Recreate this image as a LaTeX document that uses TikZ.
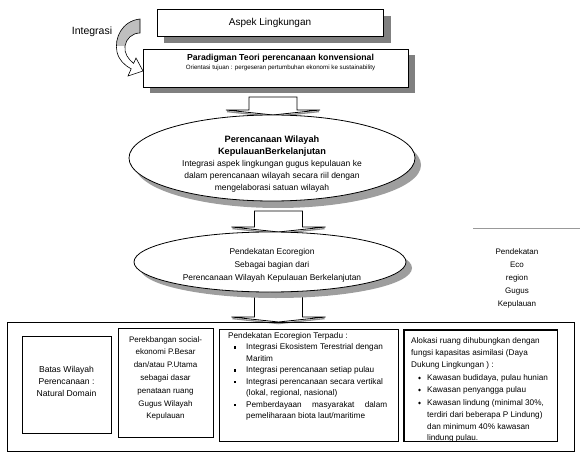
\documentclass[tikz,border=0pt]{standalone}
\usepackage{fontspec}
\setmainfont{Liberation Sans}
\usetikzlibrary{shapes.geometric}

% flat-headed downward block arrow: centre x, shaft top, wing line, tip
\newcommand{\flatarrow}[4]{%
  \draw[black!45, line width=1.3pt] ({#1-46},{#3+1.6}) -- (#1,{#4+1.6}) -- ({#1+46},{#3+1.6});
  \draw[blockarrow] ({#1-24},#2) -- ({#1-24},#3) -- ({#1-47},#3) -- (#1,#4)
     -- ({#1+47},#3) -- ({#1+24},#3) -- ({#1+24},#2) -- cycle;}

\begin{document}
\begin{tikzpicture}[x=1pt,y=-1pt,
  frame/.style={draw=black, line width=0.8pt, fill=white, inner sep=0},
  boxshadow/.style={fill=black!50},
  ovalshadow/.style={fill=black!38},
  blockarrow/.style={draw=black, line width=0.8pt, fill=white, line join=miter},
  oval/.style={ellipse, draw=black, line width=0.8pt, fill=white, inner sep=0},
  small/.style={font=\fontsize{8.5}{12}\selectfont, inner sep=0},
  line/.style={font=\fontsize{8.2}{10}\selectfont, inner sep=0, anchor=west},
  sqbullet/.style={fill=black},
]
\useasboundingbox (0,0) rectangle (580,457);

% ---- block arrows between the stages
\flatarrow{273}{97}{110}{115}
\flatarrow{278.5}{211}{227}{232}
\flatarrow{278.5}{296}{317}{322}

% ---- top boxes with solid shadows
\fill[boxshadow] (164,16) rectangle (391,43);
\node[frame, minimum width=226pt, minimum height=27pt, font=\fontsize{10}{12}\selectfont]
  (aspek) at (270,22.5) {Aspek Lingkungan};

\fill[boxshadow] (150,55) rectangle (415,93);
\node[frame, minimum width=265pt, minimum height=38pt] (para) at (275.5,68) {};
\node[font=\fontsize{8.7}{10}\selectfont\bfseries, inner sep=0] (paratitle) at (280.5,58)
  {Paradigman Teori perencanaan konvensional};
\node[font=\fontsize{6.2}{7}\selectfont, inner sep=0] (parasub) at (280.5,67.5)
  {Orientasi tujuan : pergeseran pertumbuhan ekonomi ke sustainability};

% ---- curved "Integrasi" arrow
\node[font=\fontsize{10.5}{12}\selectfont, inner sep=0] (integ) at (92,32) {Integrasi};
\path[draw=black, line width=0.6pt, fill=white, line join=miter,
      path picture={\fill[black!25] (100,0) rectangle (150,46);}]
  (140,19) .. controls (122,21) and (114,38) .. (117,52)
  .. controls (119,60) and (124,65) .. (131.2,68.8)
  -- (128,76) -- (143,71) -- (136,58) -- (133.6,63.4)
  .. controls (128,59) and (124,53) .. (125,46)
  .. controls (126,39) and (132,33) .. (140,33) -- cycle;

% ---- first ellipse
\fill[ovalshadow] (278,165) ellipse [x radius=143, y radius=43];
\node[oval, minimum width=286pt, minimum height=86pt] (plan) at (272,158) {};
\node[small, align=center] (plantext) at (272,164)
  {{\fontsize{9.2}{12}\selectfont\bfseries Perencanaan Wilayah}\\
   {\fontsize{9.2}{12}\selectfont\bfseries KepulauanBerkelanjutan}\\
   Integrasi aspek lingkungan gugus kepulauan ke\\
   dalam perencanaan wilayah secara riil dengan\\
   mengelaborasi satuan wilayah};

% ---- second ellipse
\fill[ovalshadow] (276,268) ellipse [x radius=136, y radius=30];
\node[oval, minimum width=272pt, minimum height=60pt] (eco) at (270,262) {};
\node[small, align=center, font=\fontsize{8.4}{13}\selectfont] (ecotext) at (272,265)
  {Pendekatan Ecoregion\\ Sebagai bagian dari\\ Perencanaan Wilayah Kepulauan Berkelanjutan};

% ---- side note
\draw[black!40, line width=1pt] (473,228) -- (580,228);
\node[small, align=center, font=\fontsize{8}{13}\selectfont] (side) at (517,278)
  {Pendekatan\\ Eco\\ region\\ Gugus\\ Kepulauan};

% ---- bottom panel
\draw[line width=0.8pt] (7,322) rectangle (574,451);

\node[frame, minimum width=89pt, minimum height=97pt] (batas) at (66.5,384.5) {};
\node[small, align=center, font=\fontsize{8.6}{12}\selectfont] (batastext) at (66.5,381)
  {Batas Wilayah\\ Perencanaan :\\ Natural Domain};

\node[frame, minimum width=95pt, minimum height=109pt] (sosek) at (165.5,382.5) {};
\node[small, align=center, font=\fontsize{8}{12.8}\selectfont] (sosektext) at (165.5,378.5)
  {Perekbangan social-\\ ekonomi P.Besar\\ dan/atau P.Utama\\ sebagai dasar\\
   penataan ruang\\ Gugus Wilayah\\ Kepulauan};

% integrated ecoregion approach
\node[frame, minimum width=179pt, minimum height=112pt] (terpadu) at (308.5,385) {};
\node[line] (t0) at (228,336) {Pendekatan Ecoregion Terpadu :};
\node[line] (t1) at (246,347.5) {Integrasi Ekosistem Terestrial dengan};
\node[line] (t2) at (246,359) {Maritim};
\node[line] (t3) at (246,370.5) {Integrasi perencanaan setiap pulau};
\node[line] (t4) at (246,382) {Integrasi perencanaan secara vertikal};
\node[line] (t5) at (246,393.5) {(lokal, regional, nasional)};
\node[line] (t6) at (246,405) {\makebox[141pt][s]{Pemberdayaan masyarakat dalam}};
\node[line] (t7) at (246,416.5) {pemeliharaan biota laut/maritime};
\foreach \yy in {347.5,370.5,382,405}
  \fill[sqbullet] (233.6,\yy-1.4) rectangle (236.4,\yy+1.4);

% space allocation
\node[frame, minimum width=153pt, minimum height=111pt] (alokasi) at (480.5,385.5) {};
\begin{scope}
  \clip (404,330) rectangle (557,441);
  \node[line] (a0) at (411,341) {Alokasi ruang dihubungkan dengan};
  \node[line] (a1) at (411,353) {fungsi kapasitas asimilasi (Daya};
  \node[line] (a2) at (411,365) {Dukung Lingkungan ) :};
  \node[line] (a3) at (427,378) {Kawasan budidaya, pulau hunian};
  \node[line] (a4) at (427,390) {Kawasan penyangga pulau};
  \node[line] (a5) at (427,403) {Kawasan lindung (minimal 30\%,};
  \node[line] (a6) at (427,415) {terdiri dari beberapa P Lindung)};
  \node[line] (a7) at (427,427) {dan minimum 40\% kawasan};
  \node[line] (a8) at (427,438.5) {lindung pulau.};
\end{scope}
\draw[line width=0.8pt] (alokasi.north west) rectangle (alokasi.south east);
\foreach \yy in {378,390,403}
  \fill (419.5,\yy) circle (1.4);

\end{tikzpicture}
\end{document}
